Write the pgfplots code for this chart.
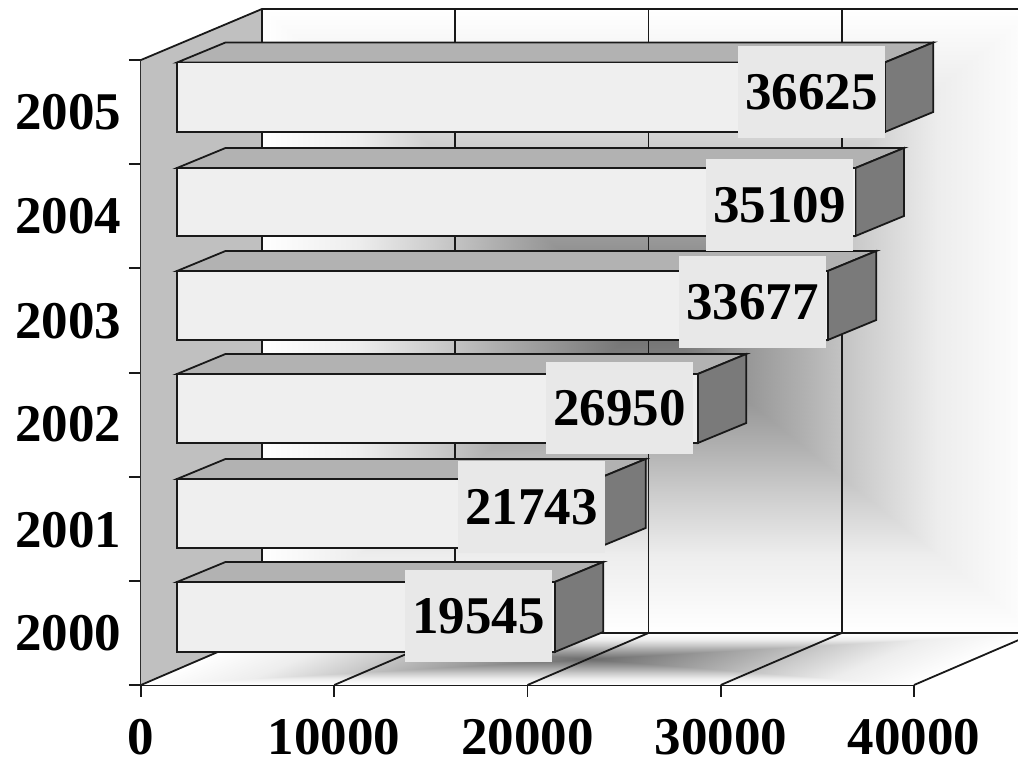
\documentclass[border=0pt]{standalone}
\usepackage{fontspec}
\setmainfont{Liberation Serif}
\usepackage{pgfplots}
\pgfplotsset{compat=1.18}
\definecolor{barfront}{HTML}{EFEFEF}
\definecolor{bartop}{HTML}{B2B2B2}
\definecolor{barside}{HTML}{7A7A7A}
\definecolor{wallgrey}{HTML}{C0C0C0}
\definecolor{labelbox}{HTML}{E8E8E8}
\pgfplotsset{colormap={wallshade}{gray(0cm)=(0.42); gray(4cm)=(0.69); gray(5.5cm)=(0.80); gray(7.5cm)=(0.93); gray(10cm)=(1)}}
\tikzset{edge/.style={draw=black!90, line width=1.8pt, line join=miter}}

% value, top and bottom of the front face (height above the floor line)
\newcommand{\threedbar}[3]{%
  \edef\xr{\the\numexpr#1+1863\relax}%
  \edef\xb{\the\numexpr#1+1863+2510\relax}%
  \pgfmathsetmacro{\yt}{#2+20}%
  \pgfmathsetmacro{\yb}{#3+20}%
  \addplot[edge, fill=bartop] coordinates {(1863,#2) (\xr,#2) (\xb,\yt) (4373,\yt)} --cycle;
  \addplot[edge, fill=barside] coordinates {(\xr,#3) (\xb,\yb) (\xb,\yt) (\xr,#2)} --cycle;
  \addplot[edge, fill=barfront] coordinates {(1863,#3) (\xr,#3) (\xr,#2) (1863,#2)} --cycle;
}

\begin{document}
\begin{tikzpicture}
\path[use as bounding box, clip] (-141pt,-80pt) rectangle (877pt,685pt);
\begin{axis}[
    scale only axis,
    width=773pt,
    height=625pt,
    xmin=0, xmax=40000,
    ymin=0, ymax=625,
    clip=false,
    axis x line*=bottom,
    axis y line*=left,
    axis line style={black!90, line width=1.5pt, -},
    tick style={black!90, line width=1.5pt},
    tick align=outside,
    major tick length=12pt,
    xtick={0,10000,20000,30000,40000},
    xticklabels={0,10000,20000,30000,40000},
    scaled x ticks=false,
    ytick={0,104,208,312,417,521,625},
    yticklabels={},
    extra y ticks={52,155,261,364,469,573},
    extra y tick labels={2000,2001,2002,2003,2004,2005},
    extra y tick style={major tick length=0pt},
    tick label style={font=\fontsize{53}{60}\selectfont\bfseries},
    xticklabel style={yshift=-19pt},
    yticklabel style={xshift=-16pt},
    colormap name=wallshade,
    point meta min=0, point meta max=1,
]
% back wall and floor
\addplot[patch, shader=interp, point meta=explicit] coordinates {
    (26261,364) [0] (6261,52) [1] (46261,52) [1]
    (26261,364) [0] (46261,52) [1] (46261,676) [1]
    (26261,364) [0] (46261,676) [1] (6261,676) [1]
    (26261,364) [0] (6261,676) [1] (6261,52) [1]
};
\addplot[patch, shader=interp, point meta=explicit] coordinates {
    (23131,26) [0] (0,0) [1] (40000,0) [1]
    (23131,26) [0] (40000,0) [1] (46261,52) [1]
    (23131,26) [0] (46261,52) [1] (6261,52) [1]
    (23131,26) [0] (6261,52) [1] (0,0) [1]
};
\addplot[fill=wallgrey, draw=none] coordinates {(0,0) (6261,52) (6261,676) (0,625)} --cycle;
% grid on wall and floor
\addplot[edge] coordinates {(0,625) (6261,676) (46261,676)};
\addplot[edge] coordinates {(6261,52) (46261,52)};
\addplot[edge] coordinates {(6261,52) (6261,676)};
\addplot[edge] coordinates {(16261,52) (16261,676)};
\addplot[edge] coordinates {(26261,52) (26261,676)};
\addplot[edge] coordinates {(36261,52) (36261,676)};
\addplot[edge] coordinates {(0,0) (6261,52)};
\addplot[edge] coordinates {(10000,0) (16261,52)};
\addplot[edge] coordinates {(20000,0) (26261,52)};
\addplot[edge] coordinates {(30000,0) (36261,52)};
\addplot[edge] coordinates {(40000,0) (46261,52)};
% bars
\threedbar{36625}{622.5}{553}
\threedbar{35109}{517}{449}
\threedbar{33677}{414}{345}
\threedbar{26950}{311}{242}
\threedbar{21743}{206}{137}
\threedbar{19545}{103}{33}
% value labels
\addplot[only marks, mark=none, point meta=explicit symbolic,
    nodes near coords, nodes near coords align=center,
    every node near coord/.append style={anchor=center, fill=labelbox, inner sep=0pt,
        minimum width=147pt, minimum height=92pt,
        font=\fontsize{53}{60}\selectfont\bfseries}]
    table[x=x, y=y, meta=v] {
    x y v
    34696 593 36625
    33040 480 35109
    31643 383 33677
    24761 277 26950
    20207 178 21743
    17464 69 19545
};
\end{axis}
\end{tikzpicture}
\end{document}
